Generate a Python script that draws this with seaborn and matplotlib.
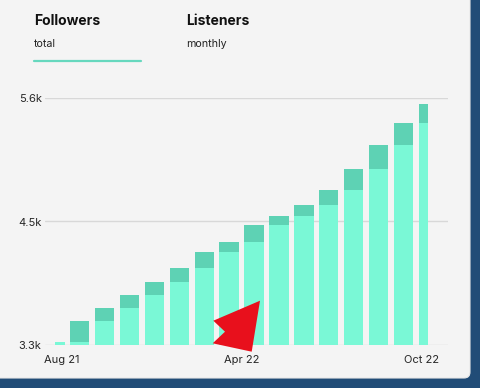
import numpy as np
import pandas as pd
import matplotlib
matplotlib.use('Agg')
import matplotlib.pyplot as plt
import seaborn as sns
from matplotlib.patches import FancyBboxPatch, Polygon
from matplotlib.lines import Line2D

# datos
periods = list(range(16))
followers = [3331, 3519, 3647, 3763, 3884, 4014, 4163, 4262,
             4415, 4504, 4601, 4741, 4936, 5165, 5370, 5544]
prev_followers = [followers[0]] + followers[:-1]
x_labels = ['Aug 21', 'Apr 22', 'Oct 22']
y_ticks = [3300, 4450, 5600]
y_labels = ['3.3k', '4.5k', '5.6k']

LIGHT = '#7AF8D6'
DARK = '#5ED2B4'
BG = '#F4F4F4'
W, H = 480, 388

sns.set_theme(style='white')
plt.rcParams['font.family'] = ['Inter', 'DejaVu Sans']

df = pd.DataFrame({'period': periods, 'total': followers, 'prev': prev_followers})

fig = plt.figure(figsize=(W / 100, H / 100), dpi=100)
fig.patch.set_facecolor('#214C77')

# panel gris con esquina redondeada (captura de pantalla)
panel = FancyBboxPatch((-10, 10), 480, H + 20,
                       boxstyle='round,pad=0,rounding_size=6',
                       transform=None, facecolor=BG, edgecolor='#E8E8E8', lw=0.8, zorder=-5)
fig.patches.append(panel)

ax = fig.add_axes([45 / W, 1 - 345 / H, (448 - 45) / W, (345 - 98) / H])
ax.set_zorder(1)
ax.patch.set_alpha(0)

sns.barplot(data=df, x='period', y='total', color=DARK, saturation=1,
            width=0.78, linewidth=0, ax=ax, zorder=2)
sns.barplot(data=df, x='period', y='prev', color=LIGHT, saturation=1,
            width=0.78, linewidth=0, ax=ax, zorder=3)

# recortar la primera y la ultima barra al rango de periodos
n = len(periods)
for p in ax.patches:
    x0, x1 = p.get_x(), p.get_x() + p.get_width()
    x0, x1 = max(x0, 0), min(x1, n - 1)
    p.set_x(x0)
    p.set_width(x1 - x0)

ax.set_xlim(-0.394, 15.79)
ax.set_ylim(y_ticks[0], y_ticks[-1])
ax.set_yticks(y_ticks)
ax.set_yticklabels(y_labels)
ax.set_xticks(np.linspace(0.29, 14.71, len(x_labels)))
ax.set_xticklabels(x_labels)
ax.set_xlabel('')
ax.set_ylabel('')
ax.yaxis.grid(True, color='#D8D8D8', lw=1)
ax.set_axisbelow(True)
for s in ax.spines.values():
    s.set_visible(False)
ax.tick_params(axis='both', length=0, labelsize=8, colors='#262626')
ax.tick_params(axis='y', pad=2.4)
ax.tick_params(axis='x', pad=7.5)

# encabezado
fig.text(34 / W, 1 - 25 / H, 'Followers', fontsize=10, fontweight='bold', color='#111111')
fig.text(186 / W, 1 - 25 / H, 'Listeners', fontsize=10, fontweight='bold', color='#111111')
fig.text(34 / W, 1 - 47 / H, 'total', fontsize=7.7, color='#222222')
fig.text(186 / W, 1 - 47 / H, 'monthly', fontsize=7.7, color='#222222')
fig.add_artist(Line2D([34 / W, 141 / W], [1 - 61 / H, 1 - 61 / H], color='#66D8BE',
                      lw=1.6, transform=fig.transFigure))

# flecha roja de la captura
arrow_px = [(260, 300.7), (213.3, 320.7), (225, 331.7), (212.7, 343.3), (251.7, 351.7)]
fig.patches.append(Polygon([(px, H - py) for px, py in arrow_px], closed=True,
                           transform=None, facecolor='#E8101C', edgecolor='none', zorder=10))

plt.savefig('out.png', dpi=100, facecolor=fig.get_facecolor())
